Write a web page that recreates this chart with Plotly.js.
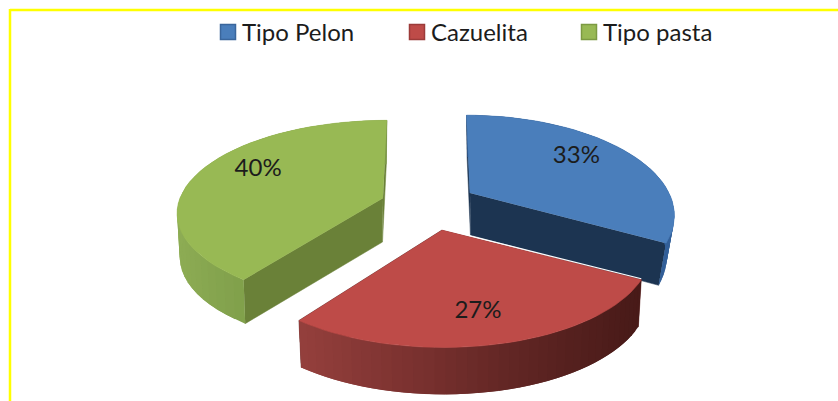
<!DOCTYPE html>
<html>
<head>
<meta charset="utf-8">
<script src="https://cdn.plot.ly/plotly-3.0.1.min.js"></script>
<style>html,body{margin:0;padding:0;background:#fff}#chart{width:838px;height:401px}</style>
</head>
<body>
<div id="chart"></div>
<script>
// Share of each type, in percent
const categories = ['Tipo Pelon', 'Cazuelita', 'Tipo pasta'];
const values = [33, 27, 40];

const topColors = ['#4a7ebb', '#be4b48', '#98b954'];
const edgeColors = ['#3a669c', '#9c3b39', '#7c9a42'];
const cutColors = ['#1c3451', '#5a1f1d', '#6a8138'];
// Colours of the curved outer wall, from its left end to its right end
const wallStops = [
  ['#2a4e7e', '#2a4e7e', '#2c5284', '#33609a'],
  ['#95403d', '#7c3230', '#5f2523', '#481a18'],
  ['#8dac54', '#80a04b', '#7d9a48', '#7d9a48']
];

// Pixel-based view of every exploded slice: centre, projected radii, perspective, thickness, label nudge
const slices = [
  {cx: 470, cy: 193, a: 199, b: 94, k: 0.208, shear: 0.045, depth: 42, shrinkX: 0.96, lr: 0.66, ldx: 2, ldy: -6},
  {cx: 442, cy: 230, a: 204, b: 93, k: 0.208, shear: 0.012, depth: 47, shrinkX: 0.985, lr: 0.68, ldx: 0, ldy: 10},
  {cx: 383, cy: 198, a: 203, b: 89, k: 0.146, shear: -0.05, depth: 44, shrinkX: 0.985, lr: 0.66, ldx: -2, ldy: -10}
];
const legendLeft = [202, 391, 563];
const legendTop = 10;
const swatchShift = 6;
const plotBottom = 395;

function project(s, deg, radius, lower) {
  const t = deg * Math.PI / 180;
  const front = -Math.cos(t) * radius;
  const den = 1 - s.k * front;
  let x = s.a * Math.sin(t) * radius / den;
  let y = s.b * front / den;
  x += s.shear * y;
  if (lower) { x = x * s.shrinkX + s.shear * 10; y += s.depth; }
  return [s.cx + x, s.cy + y];
}

function hex(c) { return [1, 3, 5].map(i => parseInt(c.slice(i, i + 2), 16)); }
function mix(stops, t) {
  const p = Math.max(0, Math.min(0.9999, t)) * (stops.length - 1);
  const i = Math.floor(p), f = p - i;
  const A = hex(stops[i]), B = hex(stops[i + 1]);
  return 'rgb(' + A.map((v, n) => Math.round(v + (B[n] - v) * f)).join(',') + ')';
}
function poly(points, color, width) {
  return {
    type: 'scatter', mode: 'lines', x: points.map(p => p[0]), y: points.map(p => p[1]),
    fill: 'toself', fillcolor: color, line: {color: color, width: width},
    hoverinfo: 'skip', showlegend: false
  };
}

const total = values.reduce((p, v) => p + v, 0);
const traces = [];
const textX = [], textY = [], textS = [];
let start = 0;

values.forEach((v, i) => {
  const s = slices[i];
  const end = start + v / total * 360;
  const arc = [];
  for (let d = start; d <= end + 1e-6; d += (end - start) / 40) arc.push(d);

  // Straight cut faces lie beneath the top face and the outer wall
  [start, end].forEach(d => {
    traces.push(poly([project(s, d, 0, false), project(s, d, 1, false), project(s, d, 1, true), project(s, d, 0, true)], cutColors[i], 0.5));
  });

  // Outer wall, drawn as strips that overlap a little to carry the shading
  const xs = arc.map(d => project(s, d, 1, false)[0]);
  const xMin = Math.min(...xs), xMax = Math.max(...xs);
  for (let n = 0; n < arc.length - 1; n++) {
    const a0 = project(s, arc[n], 1, false), a1 = project(s, arc[Math.min(n + 2, arc.length - 1)], 1, false);
    const b0 = project(s, arc[n], 1, true), b1 = project(s, arc[Math.min(n + 2, arc.length - 1)], 1, true);
    traces.push(poly([a0, a1, b1, b0], mix(wallStops[i], (a0[0] - xMin) / (xMax - xMin)), 0));
  }

  // Top face
  const rim = arc.map(d => project(s, d, 1, false));
  traces.push(poly([project(s, 0, 0, false)].concat(rim), topColors[i], 0.6));

  // Thin light seam along the slice's right cut edge
  if (i === 1) {
    traces.push({type: 'scatter', mode: 'lines', x: [project(s, start, 0, false)[0], project(s, start, 1, false)[0]],
      y: [project(s, start, 0, false)[1] - 1, project(s, start, 1, false)[1] - 1],
      line: {color: '#ffffff', width: 1.2}, hoverinfo: 'skip', showlegend: false});
  }

  const mid = project(s, (start + end) / 2, s.lr, false);
  textX.push(mid[0] + s.ldx); textY.push(mid[1] + s.ldy); textS.push(v + '%');
  start = end;
});

traces.push({
  type: 'scatter', mode: 'text', x: textX, y: textY, text: textS, textposition: 'middle center',
  textfont: {family: 'Lato, "Open Sans", sans-serif', size: 24, color: '#1c1c1c'},
  hoverinfo: 'skip', showlegend: false
});

// One legend per slice, so each entry can sit at its own place in the row
const legendKeys = ['legend', 'legend2', 'legend3'];
categories.forEach((name, i) => {
  traces.push({
    type: 'scatter', mode: 'markers', x: [null], y: [null], name: name, legend: i ? 'legend' + (i + 1) : 'legend',
    marker: {symbol: 'square', size: 15, color: topColors[i], line: {color: edgeColors[i], width: 1.5}},
    showlegend: true, hoverinfo: 'skip'
  });
});

const layout = {
  width: 838, height: 401, margin: {l: 0, r: 0, t: 0, b: 401 - plotBottom, pad: 0},
  paper_bgcolor: '#ffffff', plot_bgcolor: '#ffffff', showlegend: true,
  xaxis: {range: [0, 838], visible: false, fixedrange: true},
  yaxis: {range: [plotBottom, 0], visible: false, fixedrange: true},
  shapes: [
    {type: 'line', xref: 'paper', yref: 'paper', x0: 0.0119, x1: 1, y0: 1 - 10 / plotBottom, y1: 1 - 10 / plotBottom, line: {color: '#ffff00', width: 2.5}},
    {type: 'line', xref: 'paper', yref: 'paper', x0: 10 / 838, x1: 10 / 838, y0: 1 - 9 / plotBottom, y1: 1 - 401 / plotBottom, line: {color: '#ffff00', width: 2.5}}
  ]
};
legendKeys.forEach((key, i) => {
  layout[key] = {
    x: legendLeft[i] / 838, y: 1 - legendTop / plotBottom, xanchor: 'left', yanchor: 'top',
    orientation: 'h', bgcolor: 'rgba(0,0,0,0)', borderwidth: 0,
    font: {family: 'Lato, "Open Sans", sans-serif', size: 24, color: '#1c1c1c'}
  };
});

Plotly.newPlot('chart', traces, layout, {displayModeBar: false, staticPlot: true}).then(gd => {
  // Tighten the gap between each legend swatch and its text
  gd.querySelectorAll('.legendpoints').forEach(g => g.setAttribute('transform', 'translate(' + swatchShift + ',0)'));
});
</script>
</body>
</html>
